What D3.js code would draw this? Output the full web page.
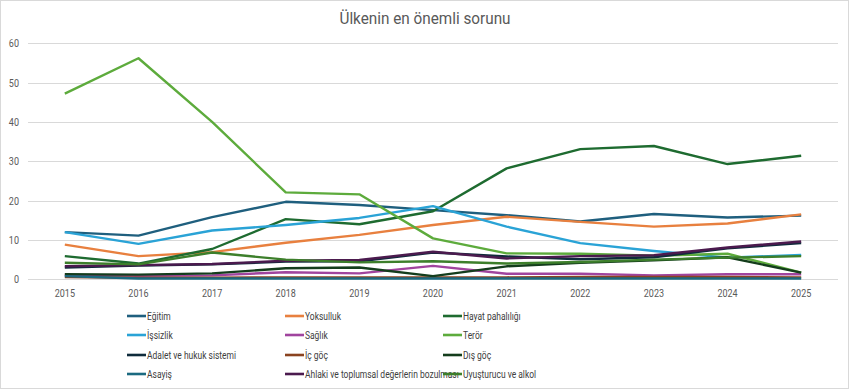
<!DOCTYPE html>
<html><head><meta charset="utf-8">
<script src="https://cdn.jsdelivr.net/npm/d3@7"></script>
<style>
body{margin:0;background:#fff;}
text{font-family:Roboto,"Liberation Sans",sans-serif;}
</style></head>
<body><svg id="c" width="850" height="390"></svg>
<script>
const years = ["2015","2016","2017","2018","2019","2020","2021","2022","2023","2024","2025"];
const yTicks = [0,10,20,30,40,50,60];
const seriesNames = ["Eğitim","Yoksulluk","Hayat pahalılığı","İşsizlik","Sağlık","Terör","Adalet ve hukuk sistemi","İç göç","Dış göç","Asayiş","Ahlaki ve toplumsal değerlerin bozulması","Uyuşturucu ve alkol"];
const egitim     = [12.0, 11.1, 15.8, 19.7, 18.9, 17.6, 16.3, 14.7, 16.6, 15.7, 16.2];
const yoksulluk  = [8.8, 5.9, 6.9, 9.3, 11.3, 13.8, 15.9, 14.6, 13.4, 14.2, 16.5];
const hayat      = [5.9, 4.0, 7.7, 15.3, 14.0, 17.3, 28.2, 33.1, 33.9, 29.3, 31.4];
const issizlik   = [12.0, 9.0, 12.4, 13.8, 15.6, 18.6, 13.4, 9.2, 7.2, 5.5, 6.2];
const saglik     = [1.1, 0.9, 1.0, 1.8, 1.5, 3.4, 1.4, 1.4, 1.0, 1.3, 1.3];
const teror      = [47.2, 56.2, 40.0, 22.1, 21.6, 10.4, 6.6, 6.5, 6.0, 6.5, 1.7];
const adalet     = [3.0, 3.5, 3.8, 4.5, 4.6, 6.8, 5.8, 5.1, 5.6, 7.9, 9.2];
const icgoc      = [0.6, 0.4, 0.4, 0.5, 0.5, 0.5, 0.5, 0.6, 0.6, 0.6, 0.5];
const disgoc     = [1.3, 1.2, 1.5, 2.8, 3.0, 0.8, 3.3, 4.2, 4.8, 5.6, 1.7];
const asayis     = [0.8, 0.2, 0.2, 0.2, 0.2, 0.2, 0.2, 0.2, 0.2, 0.2, 0.2];
const ahlaki     = [3.3, 3.6, 3.9, 4.7, 4.9, 7.0, 5.3, 5.9, 6.1, 8.1, 9.6];
const uyusturucu = [4.2, 3.8, 6.8, 5.0, 4.3, 4.6, 4.0, 4.4, 5.0, 5.5, 5.9];
const seriesValues = [egitim, yoksulluk, hayat, issizlik, saglik, teror, adalet, icgoc, disgoc, asayis, ahlaki, uyusturucu];
const colors = ["#1f5f7e","#e8803f","#1e6b30","#2aa3d6","#a0449e","#5dab3c","#0f2b3b","#8a4320","#143d1c","#1b6a80","#4b1a4e","#3d7f2b"];
const narrow = 0.82;

const svg = d3.select("#c");
svg.append("rect").attr("x",0.5).attr("y",0.5).attr("width",848).attr("height",388)
  .attr("fill","#fff").attr("stroke","#d9d9d9");

svg.append("g").attr("transform","translate(425,24) scale(0.9,1)")
  .append("text").attr("text-anchor","middle")
  .attr("font-size",17).attr("fill","#595959").text("Ülkenin en önemli sorunu");

const x = d3.scaleBand().domain(years).range([28,838]);
const y = d3.scaleLinear().domain([0,60]).range([279.3,43.3]);

const grid = svg.append("g");
grid.selectAll("line").data(yTicks).join("line")
  .attr("x1",28).attr("x2",838).attr("y1",d=>Math.round(y(d))+0.5).attr("y2",d=>Math.round(y(d))+0.5)
  .attr("stroke","#d9d9d9").attr("stroke-width",1);

const yAxis = svg.append("g").attr("transform","translate(19,0)")
  .call(d3.axisLeft(y).tickValues(yTicks).tickSize(0).tickPadding(0));
yAxis.select(".domain").remove();
yAxis.selectAll("text").attr("font-size",11).attr("fill","#595959").attr("font-family",null)
  .attr("transform",`scale(${narrow},1)`);

const xAxis = svg.append("g").attr("transform","translate(0,285)")
  .call(d3.axisBottom(x).tickSize(0).tickPadding(4));
xAxis.select(".domain").remove();
xAxis.selectAll("text").attr("font-size",11).attr("fill","#595959").attr("font-family",null)
  .attr("transform",`scale(${narrow},1)`);

const line = d3.line().x((d,i)=>x(years[i])+x.bandwidth()/2).y(d=>y(d));
svg.append("g").selectAll("path").data(seriesValues).join("path")
  .attr("d",d=>line(d)).attr("fill","none")
  .attr("stroke",(d,i)=>colors[i]).attr("stroke-width",2.4)
  .attr("stroke-linejoin","round");

const colX = [127,285,443];
const rowY = [316,335,355,374];
const leg = svg.append("g").selectAll("g").data(seriesNames).join("g")
  .attr("transform",(d,i)=>`translate(${colX[i%3]},${rowY[Math.floor(i/3)]})`);
leg.append("line").attr("x1",0).attr("x2",19).attr("y1",0).attr("y2",0)
  .attr("stroke",(d,i)=>colors[i]).attr("stroke-width",2.6);
leg.append("g").attr("transform",`translate(20,0) scale(0.77,1)`)
  .append("text").attr("x",0).attr("y",0).attr("dy","0.35em")
  .attr("font-size",11).attr("fill","#404040").text(d=>d);
</script></body></html>
